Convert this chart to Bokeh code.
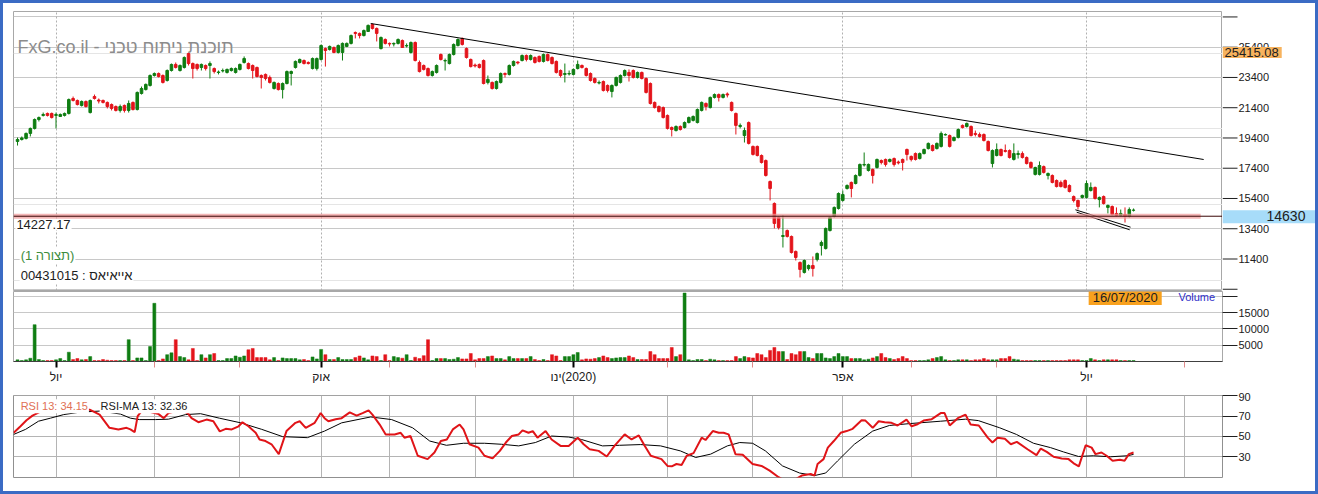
from bokeh.plotting import figure
from bokeh.models import ColumnDataSource, Range1d, FixedTicker, Grid, Label, Span, BoxAnnotation
from bokeh.layouts import column, row
from bokeh.core.properties import value
from bokeh.embed import file_html
from bokeh.resources import INLINE

# ---------------- data (daily candles, index 0 = first visible day) ----------------
opens = [
    19170, 19300, 19370, 19700, 20030, 20620, 20890, 21020, 21020, 20890,
    20820, 20890, 21020, 22010, 21880, 21550, 21810, 21080, 22140, 21910,
    21880, 21750, 21610, 21480, 21220, 21550, 21220, 21750, 21280, 22340,
    22600, 22870, 23530, 23660, 23530, 23200, 23860, 24260, 23860, 24060,
    24980, 24320, 24260, 24060, 24190, 24190, 23990, 23730, 23830, 23730,
    23860, 23730, 23930, 24390, 24320, 24190, 24060, 23530, 23600, 23400,
    22670, 23000, 22600, 23000, 23660, 24060, 24390, 24520, 24390, 23990,
    23990, 24590, 25310, 25250, 25380, 25050, 25050, 25450, 25650, 26370,
    26310, 26170, 26440, 26900, 26640, 25310, 25910, 25650, 25610, 25650,
    25840, 25480, 25050, 25710, 24390, 24190, 23990, 23530, 23730, 24920,
    24490, 24320, 24920, 25510, 25980, 25310, 24590, 24220, 24260, 24520,
    23070, 23070, 22670, 23070, 23660, 23600, 24190, 24420, 24520, 24850,
    24590, 24720, 24790, 24460, 24920, 24720, 24460, 23860, 23600, 23630,
    23600, 23990, 24190, 23990, 23660, 23330, 23030, 23130, 22870, 22470,
    22870, 23070, 23530, 23730, 23860, 23400, 23730, 23330, 23000, 21750,
    21480, 21410, 20890, 20090, 19890, 20160, 20090, 20420, 20560, 20420,
    21220, 21680, 21410, 22080, 22270, 22080, 22310, 21750, 21020, 20160,
    19560, 20420, 18840, 18840, 18240, 17910, 16520, 15070, 14140, 12890,
    13280, 12890, 11900, 11170, 10510, 10770, 10970, 11370, 12290, 12090,
    13280, 14210, 14740, 15270, 16060, 16460, 16390, 16920, 17610, 17250,
    17320, 17450, 17910, 17980, 17850, 18040, 17810, 17980, 18640, 18180,
    18370, 18040, 18370, 18700, 18900, 18700, 18840, 19600, 19560, 19230,
    19430, 20230, 20160, 20160, 19700, 19630, 19630, 19170, 17710, 18240,
    18640, 18570, 18570, 17980, 18310, 18370, 18110, 17780, 16990, 16990,
    17510, 16920, 16920, 16590, 16460, 16590, 16260, 15530, 15270, 15470,
    15470, 15930, 16130, 15330, 15530, 14810, 14870, 14410, 14280, 14340,
    14210, 14620,
]
closes = [
    19300, 19400, 19700, 20030, 20620, 20750, 20950, 20890, 20750, 20950,
    20950, 21020, 21940, 21880, 21610, 21810, 21480, 21880, 22010, 21840,
    21750, 21480, 21350, 21220, 21480, 21220, 21680, 21280, 22410, 22670,
    22940, 23530, 23660, 23460, 23070, 23860, 24260, 24060, 24190, 24720,
    24320, 23990, 23990, 24260, 23990, 24320, 23790, 23760, 23860, 23930,
    23990, 23990, 24260, 24650, 23990, 23860, 23460, 23400, 23330, 23070,
    23070, 22600, 23000, 23790, 23790, 24460, 24590, 24320, 24320, 24650,
    24650, 25510, 25180, 25450, 25050, 25510, 25650, 25650, 26170, 26310,
    26170, 26500, 26840, 26640, 26310, 26040, 25650, 25610, 25650, 25910,
    25380, 25510, 25710, 24520, 23790, 23930, 23530, 23790, 24190, 24590,
    24520, 24920, 25580, 25910, 25580, 24720, 24120, 24160, 24060, 23000,
    23270, 22670, 23130, 23660, 23600, 24190, 24460, 24360, 24850, 24590,
    24850, 24390, 24460, 24920, 24520, 24320, 23730, 23530, 23660, 23660,
    23930, 24260, 24060, 23530, 23200, 23070, 23070, 22540, 22540, 22870,
    23400, 23530, 23860, 23530, 23400, 23730, 23330, 22410, 21680, 21410,
    21150, 20750, 20030, 19960, 20160, 19960, 20420, 20750, 20820, 21280,
    21750, 21480, 22080, 22270, 22080, 22270, 22240, 21220, 20230, 20230,
    19890, 19040, 18310, 18240, 17780, 16920, 16060, 13750, 13480, 12950,
    12890, 11830, 11500, 10710, 11300, 10970, 10770, 11760, 12490, 13420,
    14140, 14810, 15730, 15660, 16260, 16060, 16920, 17650, 17650, 17650,
    16920, 17980, 17780, 17650, 17980, 17650, 17750, 17780, 18310, 17980,
    17980, 18370, 18640, 19040, 18570, 19040, 19700, 19630, 18840, 19430,
    19960, 20090, 20360, 19560, 19630, 19500, 19230, 18570, 18570, 18640,
    18240, 18510, 18110, 18370, 18370, 18110, 17710, 17450, 17450, 17580,
    17120, 17050, 16460, 16190, 16190, 16130, 15860, 15270, 14870, 15600,
    16390, 16130, 15400, 15470, 15070, 14940, 14340, 14280, 14410, 14210,
    14670, 14630,
]
highs = [
    19430, 19500, 19760, 20090, 20690, 20820, 21080, 21080, 21080, 21080,
    21020, 21080, 22010, 22140, 21940, 21880, 21880, 21940, 22270, 22010,
    21940, 21810, 21680, 21550, 21610, 21610, 21880, 21810, 22470, 22800,
    23000, 23600, 23730, 23730, 23600, 23930, 24320, 24390, 24260, 24790,
    25050, 24390, 24320, 24320, 24260, 24460, 24060, 23860, 23990, 23990,
    24060, 24060, 24320, 24790, 24390, 24260, 24120, 23600, 23660, 23530,
    23130, 23070, 23070, 23860, 23860, 24520, 24650, 24590, 24460, 24720,
    24720, 25580, 25380, 25510, 25450, 25580, 25710, 25710, 26240, 26440,
    26370, 26570, 26900, 26970, 26700, 26110, 25980, 25710, 25710, 25980,
    25910, 25650, 25780, 25780, 24520, 24260, 24060, 23860, 24260, 24980,
    24650, 24980, 25650, 25980, 26040, 25380, 24650, 24320, 24320, 24590,
    23530, 23130, 23200, 23730, 23730, 24260, 24520, 24460, 24920, 24920,
    24920, 24790, 24850, 24980, 24980, 24790, 24520, 23930, 24320, 23860,
    23990, 24520, 24260, 24060, 23730, 23400, 23200, 23200, 22940, 22940,
    23460, 23600, 23930, 23930, 23930, 23790, 23790, 23400, 23070, 21810,
    21550, 21480, 20950, 20160, 20230, 20230, 20490, 20820, 20890, 21350,
    21810, 21750, 22140, 22340, 22340, 22340, 22410, 21810, 21080, 20360,
    20090, 20490, 18900, 18900, 18310, 17980, 16590, 15140, 14210, 14280,
    13350, 12950, 11960, 11240, 11370, 11040, 11570, 11830, 12620, 13480,
    14210, 14870, 15800, 15930, 16330, 16520, 16990, 17710, 18440, 17710,
    17380, 18040, 17980, 18040, 18040, 18110, 17910, 18040, 18700, 18240,
    18440, 18440, 18700, 19100, 18970, 19100, 19830, 19700, 19630, 19500,
    20030, 20290, 20420, 20230, 19890, 19760, 19700, 19230, 18640, 19040,
    18700, 18970, 18640, 19040, 18570, 18510, 18180, 17850, 17500, 17850,
    17580, 17120, 16990, 16660, 16590, 16660, 16330, 15600, 15330, 15660,
    16590, 16460, 16190, 15530, 15600, 15000, 14940, 14810, 14670, 14810,
    14810, 14740,
]
lows = [
    18900, 19230, 19300, 19500, 19960, 20490, 20820, 20820, 20690, 20030,
    20820, 20820, 20950, 21810, 21550, 21480, 21410, 21020, 21940, 21680,
    21680, 21350, 21220, 21150, 21080, 21080, 21080, 21220, 21220, 22270,
    22540, 22800, 23460, 23400, 23000, 23130, 23790, 23990, 23790, 23990,
    24190, 23330, 23860, 23860, 23860, 23330, 23660, 23600, 23730, 23660,
    23790, 23660, 23860, 24320, 23930, 23330, 23400, 22670, 23200, 23000,
    22600, 22540, 22010, 22940, 22870, 23990, 24320, 24260, 24260, 23930,
    23860, 24520, 24120, 25180, 25000, 24980, 24520, 25400, 25580, 25980,
    25980, 26110, 26420, 26570, 25780, 25250, 25580, 25450, 25450, 25580,
    25360, 25380, 24980, 24460, 23730, 23860, 23460, 23460, 23660, 24520,
    23860, 24260, 24850, 25450, 25510, 24650, 24060, 24060, 23990, 22940,
    22940, 22600, 22600, 23000, 23400, 23530, 24120, 24260, 24460, 24460,
    24520, 24320, 24390, 24390, 24460, 24260, 23660, 23400, 23070, 23530,
    23530, 23930, 23990, 23460, 23130, 23000, 22940, 22470, 22410, 22080,
    22800, 23000, 23460, 23130, 23330, 23330, 23270, 22340, 21610, 21350,
    21080, 20690, 19960, 19500, 19830, 19890, 20030, 20360, 20490, 20360,
    21150, 21220, 21350, 22010, 21810, 22010, 22080, 21150, 19630, 20030,
    19100, 18970, 18240, 18180, 17710, 16850, 15270, 13420, 13350, 12160,
    12820, 11760, 11300, 10180, 10440, 10640, 10240, 11240, 11630, 12030,
    13220, 14140, 14670, 15200, 15990, 15470, 16330, 16850, 17510, 17180,
    16390, 17380, 17650, 17510, 17780, 17510, 17650, 17250, 17910, 17850,
    17910, 17980, 18310, 18640, 18510, 18640, 18770, 19560, 18770, 19170,
    19370, 20030, 20090, 19500, 19500, 19430, 19170, 18510, 17450, 18180,
    18180, 18440, 18040, 17910, 18040, 18040, 17650, 17380, 16920, 16920,
    17050, 16660, 16400, 16130, 16130, 16060, 15800, 15140, 14670, 15400,
    15400, 15860, 15330, 14810, 15000, 14410, 14280, 14210, 14210, 13810,
    14140, 14540,
]
volumes = [
    500, 300, 500, 1000, 11300, 600, 300, 300, 300, 500,
    900, 300, 2850, 600, 900, 500, 600, 1500, 300, 300,
    600, 400, 300, 300, 300, 300, 6700, 300, 1100, 1100,
    300, 4600, 17850, 300, 800, 2100, 2650, 6700, 1500, 1200,
    500, 4000, 300, 2100, 1100, 2100, 2450, 300, 300, 900,
    900, 1700, 1300, 1700, 3600, 4000, 1200, 1200, 1200, 500,
    1200, 300, 1100, 900, 900, 900, 500, 600, 300, 1400,
    800, 3700, 2100, 600, 600, 1200, 600, 600, 600, 1200,
    1700, 1100, 500, 1700, 1500, 300, 2100, 300, 1500, 1200,
    1000, 2100, 300, 1300, 900, 1800, 6700, 300, 900, 900,
    900, 600, 700, 1200, 800, 800, 2450, 500, 900, 900,
    1500, 1700, 900, 900, 500, 1500, 900, 900, 900, 900,
    1500, 600, 300, 600, 300, 2100, 1700, 300, 1500, 1500,
    2100, 2750, 500, 800, 700, 900, 1200, 1700, 1200, 900,
    1100, 1200, 1200, 1700, 1200, 600, 600, 600, 3050, 2100,
    900, 900, 900, 4300, 1500, 2100, 21000, 500, 300, 600,
    600, 300, 700, 500, 300, 300, 300, 300, 1500, 900,
    1500, 1200, 1100, 2450, 2100, 1200, 3400, 4300, 3050, 3050,
    600, 2450, 2100, 3050, 3050, 1200, 900, 2450, 2450, 1100,
    900, 1500, 2450, 1500, 1500, 900, 900, 900, 500, 700,
    1100, 1500, 2450, 1200, 900, 600, 900, 1500, 900, 300,
    300, 300, 300, 500, 900, 1200, 1500, 500, 300, 300,
    500, 500, 500, 300, 500, 500, 900, 500, 500, 500,
    900, 900, 1500, 700, 500, 300, 300, 300, 300, 300,
    300, 300, 300, 300, 300, 300, 500, 500, 500, 300,
    300, 900, 500, 300, 500, 500, 500, 500, 300, 300,
    300, 300,
]

# RSI(13) and its 13-period moving average, sampled along the day index
rsi_day = [
    -0.9, 0.7, 2.1, 3.5, 6.5, 10.1, 13.6, 17.1, 19.2, 21.5,
    23.6, 25.5, 26.4, 27.4, 28.1, 29.0, 31.1, 33.0, 34.2, 35.3,
    38.1, 39.8, 40.7, 42.3, 44.2, 45.8, 47.3, 48.7, 50.1, 51.7,
    52.6, 54.0, 55.7, 56.6, 58.0, 59.4, 61.1, 62.9, 65.0, 66.0,
    67.4, 69.5, 70.9, 71.8, 72.7, 74.4, 75.8, 77.7, 79.3, 80.7,
    82.1, 83.0, 84.7, 86.1, 88.2, 89.6, 90.5, 91.9, 93.6, 95.9,
    97.5, 99.0, 100.4, 101.8, 103.4, 104.3, 105.7, 107.8, 109.2, 111.1,
    112.8, 114.2, 115.6, 117.2, 118.1, 119.5, 120.5, 121.6, 123.5, 124.9,
    127.0, 128.9, 131.0, 132.4, 133.8, 135.9, 137.8, 139.6, 142.0, 143.6,
    145.3, 146.7, 148.1, 150.6, 152.0, 153.0, 154.1, 155.3, 156.5, 158.1,
    160.0, 160.9, 162.6, 164.0, 165.1, 166.3, 167.9, 169.6, 171.9, 174.0,
    175.9, 178.0, 179.6, 182.0, 183.4, 185.5, 186.4, 187.1, 188.5, 189.5,
    190.9, 192.5, 193.9, 195.3, 197.4, 198.3, 200.0, 201.4, 202.8, 204.4,
    205.8, 207.9, 209.1, 210.3, 211.9, 213.8, 215.9, 216.8, 218.0, 219.9,
    221.7, 222.9, 224.8, 226.9, 228.0, 229.2, 230.9, 232.3, 233.7, 236.2,
    238.3, 239.3, 240.7, 242.3, 244.2, 245.8, 247.2, 248.2, 249.8, 251.2,
    252.1, 253.5, 254.7, 256.1, 257.8, 258.9, 259.9, 261.0,
]
rsi_val = [
    53.6, 60, 66, 70.5, 77, 80, 79, 76, 71.5, 58.5,
    56.9, 58.5, 56.9, 54.3, 70, 75, 74, 72, 68, 73,
    76, 73, 68, 64, 66.6, 65, 55, 57.5, 56.9, 60,
    64, 60, 53.6, 47, 45.5, 42.3, 32.6, 55.3, 63.4, 65,
    58.5, 63.4, 73, 68, 65, 67, 68, 73.7, 70.5, 73,
    75.7, 71.5, 61.7, 52, 52, 53.6, 48.8, 50.4, 31, 27.7,
    34.2, 45.5, 47, 56.9, 61.7, 56.9, 42.3, 39, 31, 28.4,
    35.8, 44, 50.4, 52, 56, 53.6, 55.3, 48.8, 55.3, 47,
    40.7, 40.7, 48.8, 42.3, 37.4, 35.8, 30.3, 40.7, 52, 47,
    51, 40.7, 31, 27.7, 21, 20.6, 22.9, 21.9, 31, 33.6,
    48.8, 46.5, 55.3, 53.6, 53.6, 52, 32.6, 32, 22.9, 21,
    16.4, 9.9, 6, 8, 11.5, 13, 11.5, 22.9, 27.7, 39,
    45.5, 53.6, 55.3, 57.5, 66, 65.6, 58.5, 65, 64, 63.4,
    60.8, 66.6, 60, 61.7, 65.6, 67, 73, 73, 60.8, 68,
    71.5, 61.7, 60.8, 48.8, 44, 48.8, 47.8, 42.3, 44.6, 37.4,
    31.6, 38.1, 34.8, 30, 28.4, 27.7, 22.9, 20.6, 41.3, 39,
    32.6, 34.2, 31, 26.1, 27, 26.1, 32.6, 34.15,
]
rsima_day = [
    -0.9, 1.9, 4.9, 7.7, 10.8, 14.7, 19.4, 24.1, 26.4, 28.5,
    32.3, 35.3, 39.3, 42.8, 47.2, 52.2, 57.1, 62.0, 67.8, 71.8,
    75.8, 82.6, 87.5, 92.4, 96.4, 100.3, 104.3, 109.2, 113.2, 117.2,
    121.1, 124.9, 128.9, 131.9, 136.8, 140.8, 145.7, 150.4, 155.0, 158.6,
    162.1, 166.0, 168.9, 171.9, 174.9, 178.9, 182.9, 186.4, 189.0, 191.8,
    195.7, 200.0, 203.9, 208.8, 215.9, 221.7, 224.7, 229.7, 233.6, 237.6,
    241.6, 244.6, 248.1, 251.6, 255.6, 259.6, 261.0,
]
rsima_val = [
    52, 57, 65, 68, 71.5, 74, 75, 72, 68, 66.6,
    66.6, 67, 71.5, 72.4, 68, 63.4, 57, 49.8, 48.8, 55.3,
    63.4, 69.2, 66.6, 58.5, 45.5, 41.3, 43.3, 43.3, 42.3, 40.7,
    44, 50.4, 49.4, 47, 40.7, 41.3, 42, 40.7, 35.8, 29.3,
    32.6, 40.7, 44, 43.3, 35.8, 21, 14, 11.5, 14, 26,
    42.3, 55.3, 60.8, 62.7, 65, 67, 65.6, 58.5, 52, 43.3,
    39, 34.8, 30.3, 31, 30, 31, 32.36,
]

# drawn studies
trend_day = [82.6, 277.4]
trend_val = [26967, 17977]
chan1_day = [247.4, 260.3]
chan1_val = [14654, 13503]
chan2_day = [247.7, 260.1]
chan2_val = [14494, 13331]
support_level = 14227.17
support_end_day = 276.7
last_price = 14630
marker_price = 25415.08
last_date = "16/07/2020"

# axes
price_ticks = [9400, 11400, 13400, 15400, 17400, 19400, 21400, 23400, 25400, 27400]
price_labelled = [11400, 13400, 15400, 17400, 19400, 21400, 23400, 25400]
vol_ticks = [5000, 10000, 15000, 20000]
rsi_ticks = [30, 50, 70, 90]
month_major = [9, 71, 130, 193, 250]
month_labels = ["יול", "אוק", "ינו\u200e(2020)", "אפר", "יול"]
month_minor = [32, 52, 87, 107, 152, 172, 209, 229, 273]

# ---------------- styling ----------------
GREEN = "#0f7d12"
RED = "#e3141b"
FONT = "Liberation Sans"
GRID = "#c8c8c8"
TXT = "#202020"
W = 1312           # inner width (inside the 3px blue frame)
ML, MR = 10, 93    # plot-frame margins

n = min(len(opens), len(highs), len(lows), len(closes), len(volumes))
days = list(range(n))
src = ColumnDataSource(dict(
    x=days,
    h=highs[:n],
    l=lows[:n],
    top=[max(opens[i], closes[i]) for i in days],
    bot=[min(opens[i], closes[i]) for i in days],
    vol=volumes[:n],
    col=[GREEN if closes[i] >= opens[i] else RED for i in days],
))

xr = Range1d(-0.94, 281.8)


def right_axis(ax, ticks, overrides=None):
    ax.ticker = FixedTicker(ticks=ticks)
    if overrides:
        ax.major_label_overrides = overrides
    ax.major_tick_out = 15
    ax.major_tick_in = 0
    ax.minor_tick_out = 0
    ax.minor_tick_in = 0
    ax.axis_line_color = None
    ax.major_tick_line_color = TXT
    ax.major_label_text_font = FONT
    ax.major_label_text_font_size = "11px"
    ax.major_label_text_color = TXT
    ax.major_label_standoff = 1


def base(p):
    p.background_fill_color = "white"
    p.border_fill_color = "white"
    p.outline_line_color = "#a8a8a8"
    p.xgrid.visible = False


# ---------------- price panel ----------------
p1 = figure(width=W - MR, height=288, x_range=xr, y_range=Range1d(9318, 27760),
            output_backend="svg", toolbar_location=None,
            x_axis_location=None, y_axis_location=None,
            min_border_left=ML, min_border_right=0, min_border_top=8, min_border_bottom=1)
base(p1)
p1.add_layout(Grid(dimension=1, ticker=FixedTicker(ticks=price_ticks), grid_line_color=GRID))
p1.add_layout(Grid(dimension=0, ticker=FixedTicker(ticks=month_major),
                   grid_line_color="#b0b0b0", grid_line_dash="2 2"))

p1.segment("x", "h", "x", "l", source=src, line_color="col", line_width=1)
p1.vbar(x="x", width=0.6, top="top", bottom="bot", source=src,
        fill_color="col", line_color="col", line_width=1)

p1.add_layout(BoxAnnotation(bottom=support_level - 165, top=support_level + 165,
                            right=support_end_day, fill_color="#f09898", fill_alpha=0.7,
                            line_color=None))
p1.add_layout(Span(location=support_level, dimension="width",
                   line_color="#3a0606", line_width=1))

p1.line(trend_day, trend_val, line_color="black", line_width=1)
p1.line(chan1_day, chan1_val, line_color="black", line_width=1)
p1.line(chan2_day, chan2_val, line_color="black", line_width=1)

p1.add_layout(Label(x=0, y=25446, text="FxG.co.il - תוכנת ניתוח טכני",
                    text_font=FONT, text_font_size="18px", text_color="#8c8c8c",
                    text_baseline="middle"))
p1.add_layout(Label(x=-0.5, y=13680, text=f"{support_level:.2f}",
                    text_font=FONT, text_font_size="13px", text_color=TXT,
                    text_baseline="middle", background_fill_color="white", padding=1))
p1.add_layout(Label(x=0.5, y=11630, text="(1 תצורה)",
                    text_font=FONT, text_font_size="13px", text_color="#3c8c3c",
                    text_baseline="middle", background_fill_color="white", padding=1))
p1.add_layout(Label(x=0.5, y=10310, text="00431015 : אייאיאס",
                    text_font=FONT, text_font_size="13px", text_color=TXT,
                    text_baseline="middle", background_fill_color="white", padding=1))

# price scale strip on the right (shares the price range), with value flags
s1 = figure(width=MR, height=288, x_range=Range1d(0, MR), y_range=p1.y_range,
            output_backend="svg", toolbar_location=None,
            x_axis_location=None, y_axis_location=None,
            min_border_left=0, min_border_right=0, min_border_top=8, min_border_bottom=1)
s1.background_fill_color = "white"
s1.border_fill_color = "white"
s1.outline_line_color = None
s1.grid.visible = False
s1.segment(x0=[0] * len(price_ticks), y0=price_ticks, x1=[15] * len(price_ticks), y1=price_ticks,
           line_color=TXT, line_width=1)
s1.text(x=[16] * len(price_labelled), y=price_labelled, text=[str(v) for v in price_labelled],
        text_font=value(FONT), text_font_size="11px", text_color=TXT, text_baseline="middle")
s1.text(x=[0], y=[marker_price], text=[f"{marker_price:.2f}"],
        text_font=value(FONT), text_font_size="13px", text_color=TXT, text_baseline="top",
        background_fill_color="#f7b35e", padding=dict(left=2, right=3, top=1, bottom=1))
s1.text(x=[0], y=[last_price], text=[str(last_price)],
        text_font=value(FONT), text_font_size="14px", text_color=TXT, text_baseline="top",
        background_fill_color="#a7dcf9", padding=dict(left=44, right=10, top=1, bottom=2))

# ---------------- volume panel ----------------
p2 = figure(width=W, height=101, x_range=xr, y_range=Range1d(0, 21470),
            output_backend="svg", toolbar_location=None,
            x_axis_location="below", y_axis_location="right",
            min_border_left=ML, min_border_right=MR, min_border_top=0, min_border_bottom=31)
base(p2)
right_axis(p2.yaxis[0], vol_ticks, {20000: ""})
p2.ygrid.ticker = FixedTicker(ticks=vol_ticks)
p2.ygrid.grid_line_color = GRID
xa = p2.xaxis[0]
xa.ticker = FixedTicker(ticks=month_major, minor_ticks=month_minor)
xa.major_label_overrides = dict(zip(month_major, month_labels))
xa.axis_line_color = "#404040"
xa.major_tick_out = 6
xa.major_tick_in = 0
xa.major_tick_line_color = "black"
xa.major_tick_line_width = 2
xa.minor_tick_out = 6
xa.minor_tick_in = 0
xa.minor_tick_line_color = "#e08a8a"
xa.major_label_text_font = FONT
xa.major_label_text_font_size = "12px"
xa.major_label_text_color = TXT
xa.major_label_standoff = 2

p2.vbar(x="x", width=0.7, top="vol", bottom=0, source=src,
        fill_color="col", line_color="col", line_width=0.5)
p2.add_layout(Label(x=250.5, y=19630, text=last_date,
                    text_font=FONT, text_font_size="13px", text_color=TXT,
                    text_baseline="middle", background_fill_color="#f8a11e",
                    padding=dict(left=4, right=4, top=0, bottom=0)))
p2.add_layout(Label(x=271.5, y=19630, text="Volume",
                    text_font=FONT, text_font_size="11px", text_color="#2c2cc8",
                    text_baseline="middle"))

# ---------------- RSI panel ----------------
p3 = figure(width=W, height=99, x_range=xr, y_range=Range1d(9.6, 90.3),
            output_backend="svg", toolbar_location=None,
            x_axis_location=None, y_axis_location="right",
            min_border_left=ML, min_border_right=MR, min_border_top=3, min_border_bottom=14)
base(p3)
p3.outline_line_color = "#909090"
right_axis(p3.yaxis[0], rsi_ticks)
p3.ygrid.ticker = FixedTicker(ticks=rsi_ticks)
p3.ygrid.grid_line_color = "#b4b4b4"
p3.add_layout(Grid(dimension=0, ticker=FixedTicker(ticks=sorted(month_major + month_minor)),
                   grid_line_color="#b4b4b4"))
p3.line(rsima_day, rsima_val, line_color="black", line_width=1)
p3.line(rsi_day, rsi_val, line_color="#e01418", line_width=2)
p3.add_layout(Label(x=0.5, y=79.6, text=f"RSI 13: {rsi_val[-1]:.2f}",
                    text_font=FONT, text_font_size="11px", text_color="#e07055",
                    text_baseline="middle", background_fill_color="white", padding=1))
p3.add_layout(Label(x=19.2, y=79.6, text=f"RSI-MA 13: {rsima_val[-1]:.2f}",
                    text_font=FONT, text_font_size="11px", text_color=TXT,
                    text_baseline="middle", background_fill_color="white", padding=1))

page = column(row(p1, s1, spacing=0), p2, p3, spacing=0,
              styles={"border": "3px solid #3b6bc4", "background-color": "white"})

open("out.html", "w").write(file_html(page, INLINE))
